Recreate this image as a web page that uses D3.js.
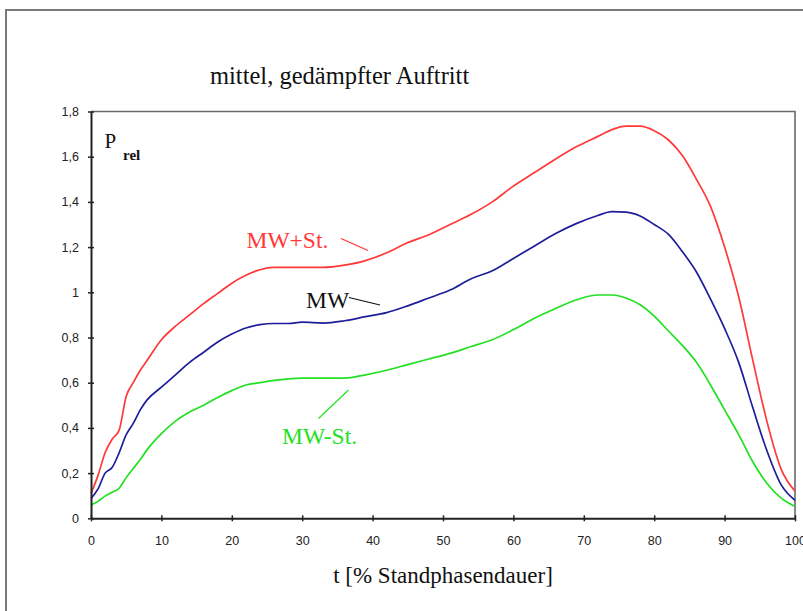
<!DOCTYPE html>
<html>
<head>
<meta charset="utf-8">
<script src="https://cdn.jsdelivr.net/npm/d3@7"></script>
<style>
  html, body { margin: 0; padding: 0; background: #fff; }
  svg { display: block; }
</style>
</head>
<body>
<div id="chart"></div>
<script>
// Standphase, relative Kraft (MW, MW+St., MW-St.)
var tValues = [0, 1, 2, 3, 4, 5, 6, 7, 8, 10, 12, 14, 16, 18, 20, 22, 24, 26, 28, 30, 33, 36, 39, 42, 45, 48, 51, 54, 57, 60, 63, 66, 69, 72, 74, 76, 78, 80, 82, 84, 86, 88, 90, 92, 94, 96, 98, 100];

var mwPlusSt = [0.11, 0.19, 0.29, 0.35, 0.39, 0.54, 0.60, 0.655, 0.70, 0.79, 0.85, 0.90, 0.95, 0.995, 1.04, 1.075, 1.10, 1.11, 1.11, 1.11, 1.11, 1.12, 1.14, 1.175, 1.22, 1.255, 1.30, 1.345, 1.40, 1.47, 1.53, 1.59, 1.645, 1.69, 1.72, 1.735, 1.735, 1.715, 1.675, 1.605, 1.50, 1.38, 1.20, 0.98, 0.70, 0.43, 0.22, 0.12];

var mw = [0.088, 0.13, 0.20, 0.225, 0.29, 0.37, 0.42, 0.48, 0.525, 0.58, 0.635, 0.69, 0.735, 0.78, 0.815, 0.842, 0.857, 0.862, 0.862, 0.868, 0.864, 0.874, 0.892, 0.91, 0.94, 0.975, 1.01, 1.06, 1.095, 1.15, 1.205, 1.26, 1.305, 1.34, 1.357, 1.355, 1.338, 1.30, 1.257, 1.18, 1.09, 0.97, 0.84, 0.69, 0.49, 0.30, 0.15, 0.08];

var mwMinusSt = [0.059, 0.075, 0.098, 0.115, 0.133, 0.18, 0.22, 0.26, 0.305, 0.375, 0.43, 0.47, 0.50, 0.535, 0.565, 0.59, 0.60, 0.61, 0.617, 0.62, 0.62, 0.62, 0.635, 0.655, 0.68, 0.705, 0.73, 0.76, 0.79, 0.835, 0.885, 0.928, 0.967, 0.988, 0.988, 0.975, 0.945, 0.895, 0.83, 0.765, 0.69, 0.59, 0.48, 0.37, 0.25, 0.155, 0.09, 0.052];

var xTicks = [0, 10, 20, 30, 40, 50, 60, 70, 80, 90, 100];
var yTicks = [0, 0.2, 0.4, 0.6, 0.8, 1, 1.2, 1.4, 1.6, 1.8];

var titleText = 'mittel, gedämpfter Auftritt';
var xLabelText = 't [% Standphasendauer]';

(function() {

  'use strict'

  var Chart = function(element) {
    this.element = element;
    this.width = 803;
    this.height = 611;
    this.left = 91;
    this.right = 795;
    this.top = 111.5;
    this.bottom = 518.3;

    this.serif = '"Liberation Serif", "Times New Roman", Times, serif';
    this.sans = '"Liberation Sans", Arial, sans-serif';

    this.series = [
      { values: mwPlusSt, color: '#ff3838', label: 'MW+St.', lx: 246.5, ly: 247.5, lead: [341, 238.5, 368, 250.5] },
      { values: mw, color: '#1e1e9a', label: 'MW', lx: 306, ly: 308, lead: [349, 297.5, 380, 305], labelColor: '#111' },
      { values: mwMinusSt, color: '#22e022', label: 'MW-St.', lx: 282, ly: 444, lead: [318.5, 418.5, 348.5, 390] }
    ];
  };

  Chart.prototype.init = function() {
    this.svg = d3.select(this.element).append('svg')
      .attr('width', this.width)
      .attr('height', this.height);

    this.x = d3.scaleLinear().domain([0, 100]).range([this.left, this.right]);
    this.y = d3.scaleLinear().domain([0, 1.8]).range([this.bottom, this.top]);

    this.setFrame().setLines().setAxes().setTexts();
  };

  Chart.prototype.setFrame = function() {
    // outer frame, cut off at right and bottom like in the scan
    this.svg.append('rect')
      .attr('x', 6).attr('y', 10)
      .attr('width', 820).attr('height', 640)
      .style('fill', 'none')
      .style('stroke', '#7a7a7a')
      .style('stroke-width', 2);

    // plot box (top and right)
    this.svg.append('path')
      .attr('d', 'M' + this.left + ',' + this.top + 'H' + this.right + 'V' + this.bottom)
      .style('fill', 'none')
      .style('stroke', '#6a6a6a')
      .style('stroke-width', 1.6);
    return this;
  };

  Chart.prototype.setLines = function() {
    var x = this.x, y = this.y;
    var line = d3.line()
      .x(function(d) { return x(d[0]); })
      .y(function(d) { return y(d[1]); })
      .curve(d3.curveMonotoneX);

    this.series.forEach(function(s) {
      var pts = tValues.map(function(t, i) { return [t, s.values[i]]; });
      this.svg.append('path')
        .datum(pts)
        .attr('d', line)
        .style('fill', 'none')
        .style('stroke', s.color)
        .style('stroke-width', 1.7);
    }, this);
    return this;
  };

  Chart.prototype.setAxes = function() {
    var fmt = d3.formatLocale({ decimal: ',', thousands: '.', grouping: [3], currency: ['', ' €'] }).format('~g');

    var xAxis = d3.axisBottom(this.x)
      .tickValues(xTicks)
      .tickSizeInner(6)
      .tickSizeOuter(0)
      .tickPadding(12)
      .tickFormat(d3.format('d'));

    var yAxis = d3.axisLeft(this.y)
      .tickValues(yTicks)
      .tickSizeInner(6)
      .tickSizeOuter(0)
      .tickPadding(6)
      .tickFormat(fmt);

    var gx = this.svg.append('g')
      .attr('transform', 'translate(0,' + this.bottom + ')')
      .call(xAxis);
    gx.selectAll('.tick line').attr('y1', -3).attr('y2', 3);

    var gy = this.svg.append('g')
      .attr('transform', 'translate(' + this.left + ',0)')
      .call(yAxis);
    gy.selectAll('.tick line').attr('x1', -3).attr('x2', 3);

    [gx, gy].forEach(function(g) {
      g.select('.domain').style('stroke', '#222').style('stroke-width', 2);
      g.selectAll('.tick line').style('stroke', '#222').style('stroke-width', 1.5);
      g.selectAll('.tick text')
        .style('font-family', this.sans)
        .style('font-size', '12.5px')
        .style('fill', '#222');
    }, this);
    gx.selectAll('.tick text').attr('dy', '0.71em');
    return this;
  };

  Chart.prototype.setTexts = function() {
    this.svg.append('text')
      .attr('x', 210).attr('y', 84)
      .style('font-family', this.serif)
      .style('font-size', '24.5px')
      .style('fill', '#111')
      .text(titleText);

    this.svg.append('text')
      .attr('x', (this.left + this.right) / 2).attr('y', 583)
      .attr('text-anchor', 'middle')
      .style('font-family', this.serif)
      .style('font-size', '23px')
      .style('fill', '#111')
      .text(xLabelText);

    var p = this.svg.append('text')
      .attr('x', 104.5).attr('y', 147.5)
      .style('font-family', this.serif)
      .style('fill', '#111');
    p.append('tspan').style('font-size', '21px').text('P');
    p.append('tspan')
      .attr('x', 123).attr('y', 160)
      .style('font-size', '15px')
      .style('font-weight', 'bold')
      .text('rel');

    this.series.forEach(function(s) {
      this.svg.append('text')
        .attr('x', s.lx).attr('y', s.ly)
        .style('font-family', this.serif)
        .style('font-size', '23.5px')
        .style('fill', s.labelColor || s.color)
        .text(s.label);
      this.svg.append('line')
        .attr('x1', s.lead[0]).attr('y1', s.lead[1])
        .attr('x2', s.lead[2]).attr('y2', s.lead[3])
        .style('stroke', s.labelColor || s.color)
        .style('stroke-width', 1.2);
    }, this);
    return this;
  };

  var app = new Chart('#chart');
  app.init();

})();
</script>
</body>
</html>
